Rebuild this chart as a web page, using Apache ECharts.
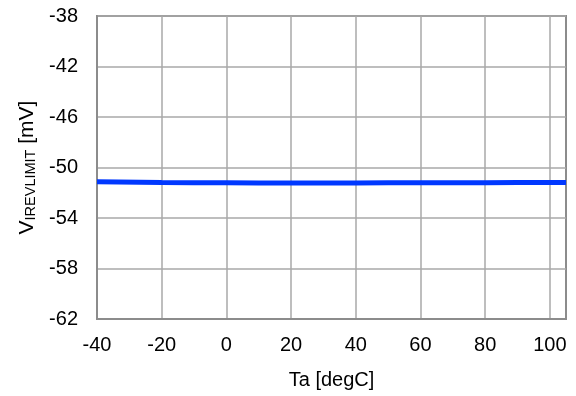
<!DOCTYPE html>
<html>
<head>
<meta charset="utf-8">
<script src="https://cdn.jsdelivr.net/npm/echarts@6/dist/echarts.min.js"></script>
<style>html,body{margin:0;padding:0;background:#fff;}#c{width:576px;height:396px;}</style>
</head>
<body>
<div id="c"></div>
<script>
const temps = [-40, -20, 0, 20, 40, 60, 80, 100, 105];
const vIrevLimit = [-51.13, -51.18, -51.21, -51.22, -51.22, -51.21, -51.20, -51.19, -51.19];
const xTicks = [-40, -20, 0, 20, 40, 60, 80, 100];
const yTicks = [-62, -58, -54, -50, -46, -42, -38];

const F = '"Liberation Sans", Arial, sans-serif';
const chart = echarts.init(document.getElementById('c'), null, {renderer: 'canvas'});
chart.setOption({
  animation: false,
  backgroundColor: '#ffffff',
  grid: {left: 97, right: 10, top: 16, bottom: 77, show: true, borderColor: '#8c8c8c', borderWidth: 2, containLabel: false},
  xAxis: {
    type: 'value', min: -40, max: 105,
    name: 'Ta [degC]', nameLocation: 'middle', nameGap: 51,
    nameTextStyle: {fontFamily: F, fontSize: 20, color: '#000'},
    axisLine: {show: true, onZero: false, lineStyle: {color: '#8c8c8c', width: 2}},
    axisTick: {show: false, customValues: xTicks},
    axisLabel: {customValues: xTicks, fontFamily: F, fontSize: 20, color: '#000', margin: 16},
    splitLine: {show: true, lineStyle: {color: '#a8a8a8', width: 1.5}}
  },
  yAxis: {
    type: 'value', min: -62, max: -38,
    name: '{v|V}{s|IREVLIMIT}{v| [mV]}', nameLocation: 'middle', nameGap: 58, nameRotate: 90,
    nameTextStyle: {
      fontFamily: F, fontSize: 21, color: '#000',
      rich: {
        v: {fontFamily: F, fontSize: 21, color: '#000', lineHeight: 24, verticalAlign: 'bottom'},
        s: {fontFamily: F, fontSize: 14.5, color: '#000', lineHeight: 24, verticalAlign: 'bottom', padding: [0, 0, 0, 0]}
      }
    },
    axisLine: {show: true, onZero: false, lineStyle: {color: '#8c8c8c', width: 2}},
    axisTick: {show: false, customValues: yTicks},
    axisLabel: {customValues: yTicks, fontFamily: F, fontSize: 20, color: '#000', margin: 19},
    splitLine: {show: true, lineStyle: {color: '#a8a8a8', width: 1.5}}
  },
  series: [{
    type: 'line',
    data: temps.map((t, i) => [t, vIrevLimit[i]]),
    smooth: true,
    showSymbol: false,
    clip: false,
    lineStyle: {color: '#0038ff', width: 5}
  }]
});
</script>
</body>
</html>
